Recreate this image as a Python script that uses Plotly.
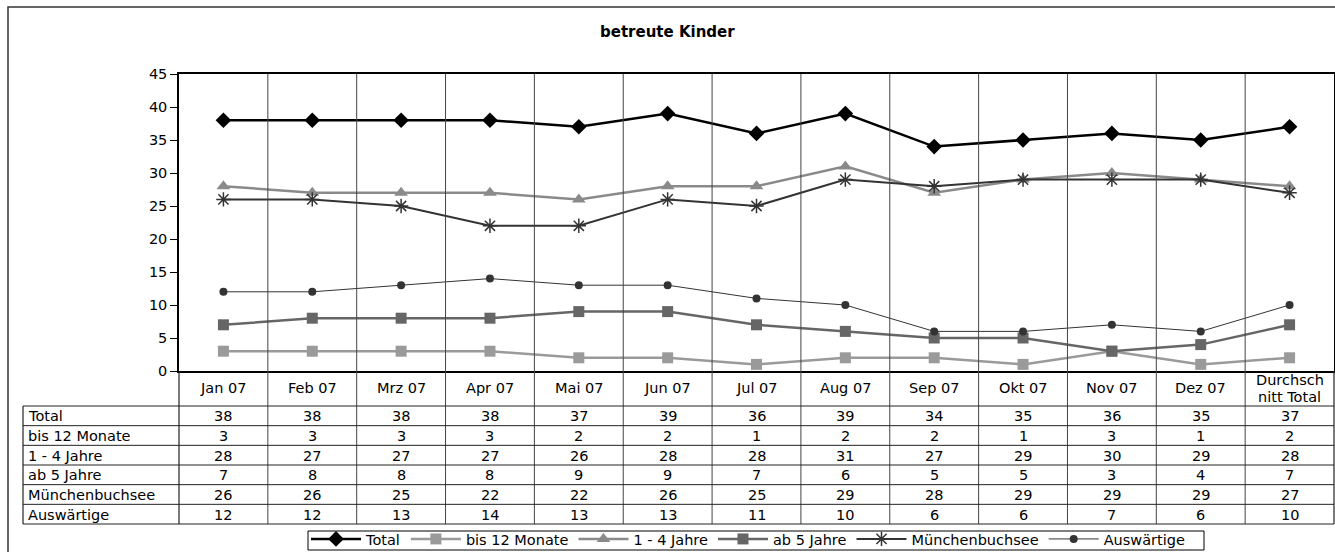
import plotly.graph_objects as go

categories = ["Jan 07", "Feb 07", "Mrz 07", "Apr 07", "Mai 07", "Jun 07", "Jul 07",
              "Aug 07", "Sep 07", "Okt 07", "Nov 07", "Dez 07", "Durchsch<br>nitt Total"]
series_names = ["Total", "bis 12 Monate", "1 - 4 Jahre", "ab 5 Jahre", "Münchenbuchsee", "Auswärtige"]
total = [38, 38, 38, 38, 37, 39, 36, 39, 34, 35, 36, 35, 37]
bis12 = [3, 3, 3, 3, 2, 2, 1, 2, 2, 1, 3, 1, 2]
jahre14 = [28, 27, 27, 27, 26, 28, 28, 31, 27, 29, 30, 29, 28]
ab5 = [7, 8, 8, 8, 9, 9, 7, 6, 5, 5, 3, 4, 7]
muenchenbuchsee = [26, 26, 25, 22, 22, 26, 25, 29, 28, 29, 29, 29, 27]
auswaertige = [12, 12, 13, 14, 13, 13, 11, 10, 6, 6, 7, 6, 10]
y_ticks = [0, 5, 10, 15, 20, 25, 30, 35, 40, 45]

series_values = [total, bis12, jahre14, ab5, muenchenbuchsee, auswaertige]
styles = [
    dict(color="#000000", width=2.5, symbol="diamond", size=12),
    dict(color="#9a9a9a", width=2.5, symbol="square", size=11),
    dict(color="#8a8a8a", width=2.5, symbol="triangle-up", size=12),
    dict(color="#666666", width=2.5, symbol="square", size=11),
    dict(color="#333333", width=2, symbol="asterisk-open", size=12),
    dict(color="#333333", width=1, symbol="circle", size=8),
]

W, H = 1335, 552
L, R, T, B = 179, 1334, 74, 371
FONT = "DejaVu Sans, Liberation Sans, Arial, sans-serif"
FS = 14.5


def py(pix):
    return (B - pix) / (B - T)


def px(pix):
    return (pix - L) / (R - L)


xs = list(range(len(categories)))
fig = go.Figure()
for name, vals, st in zip(series_names, series_values, styles):
    fig.add_trace(go.Scatter(
        x=xs, y=vals, name=name, mode="lines+markers",
        line=dict(color=st["color"], width=st["width"]),
        marker=dict(symbol=st["symbol"], size=st["size"], color=st["color"],
                    line=dict(color=st["color"], width=1.5 if st["symbol"] == "asterisk-open" else 0)),
        cliponaxis=False,
    ))

shapes = []
annotations = []
line_col = "#222222"
# outer chart border (cropped on right/bottom)
shapes.append(dict(type="rect", xref="paper", yref="paper", x0=px(8), x1=px(1345),
                   y0=py(565), y1=py(7), line=dict(color="#333333", width=1.5)))
# vertical gridlines through plot and category/table area
for k in range(len(categories) - 1):
    shapes.append(dict(type="line", xref="x", yref="paper", x0=k + 0.5, x1=k + 0.5,
                       y0=py(524), y1=1, line=dict(color="#444444", width=1)))
# extend left/right border through table
shapes.append(dict(type="line", xref="paper", yref="paper", x0=0, x1=0, y0=py(524), y1=0,
                   line=dict(color=line_col, width=1.2)))
shapes.append(dict(type="line", xref="paper", yref="paper", x0=1, x1=1, y0=py(524), y1=0,
                   line=dict(color=line_col, width=1.2)))
# table
row_top = 406
row_h = (524 - 406) / 6
shapes.append(dict(type="line", xref="paper", yref="paper", x0=px(23), x1=px(23),
                   y0=py(524), y1=py(row_top), line=dict(color=line_col, width=1.2)))
for r in range(7):
    yy = row_top + r * row_h
    shapes.append(dict(type="line", xref="paper", yref="paper", x0=px(23), x1=1,
                       y0=py(yy), y1=py(yy), line=dict(color=line_col, width=1)))
# legend frame
shapes.append(dict(type="rect", xref="paper", yref="paper", x0=px(308), x1=px(1204),
                   y0=py(550), y1=py(531), line=dict(color="#000000", width=1),
                   fillcolor="white", layer="below"))

# category labels (multi-line labels split into separate lines)
for i, c in enumerate(categories):
    parts = c.split("<br>")
    ys = [388.5] if len(parts) == 1 else [380, 397]
    for part, yy in zip(parts, ys):
        annotations.append(dict(x=i, y=py(yy), xref="x", yref="paper", text=part, showarrow=False,
                                xanchor="center", yanchor="middle",
                                font=dict(size=FS, color="#000000", family=FONT)))
# table body
for r, (name, vals) in enumerate(zip(series_names, series_values)):
    yc = row_top + (r + 0.5) * row_h + 0.5
    annotations.append(dict(x=px(26), y=py(yc), xref="paper", yref="paper", text=name,
                            showarrow=False, xanchor="left", yanchor="middle",
                            font=dict(size=FS, color="#000000", family=FONT)))
    for i, v in enumerate(vals):
        annotations.append(dict(x=i, y=py(yc), xref="x", yref="paper", text=str(v),
                                showarrow=False, xanchor="center", yanchor="middle",
                                font=dict(size=FS, color="#000000", family=FONT)))
# title
annotations.append(dict(x=px(667), y=py(32), xref="paper", yref="paper",
                        text="<b>betreute Kinder</b>", showarrow=False,
                        xanchor="center", yanchor="middle",
                        font=dict(size=15, color="#000000", family=FONT)))

fig.update_layout(
    width=W, height=H,
    margin=dict(l=L, r=W - R, t=T, b=H - B, pad=0, autoexpand=False),
    paper_bgcolor="white", plot_bgcolor="white",
    font=dict(family=FONT, size=FS, color="#000000"),
    showlegend=True,
    legend=dict(orientation="h", x=px(306), y=py(523), xanchor="left", yanchor="top",
                borderwidth=0, bgcolor="rgba(0,0,0,0)",
                font=dict(size=FS, family=FONT), itemwidth=50, tracegroupgap=0),
    xaxis=dict(range=[-0.5, len(categories) - 0.5], showticklabels=False, ticks="",
               showgrid=False, zeroline=False, showline=True, mirror=True,
               linecolor="#000000", linewidth=1.5, fixedrange=True),
    yaxis=dict(range=[0, 45], tickvals=y_ticks, ticks="outside", ticklen=7,
               tickcolor="#000000", showgrid=False, zeroline=False, showline=True,
               mirror=True, linecolor="#000000", linewidth=1.5,
               tickfont=dict(size=FS, family=FONT), fixedrange=True),
    shapes=shapes, annotations=annotations,
)

fig.write_html("out.html")
